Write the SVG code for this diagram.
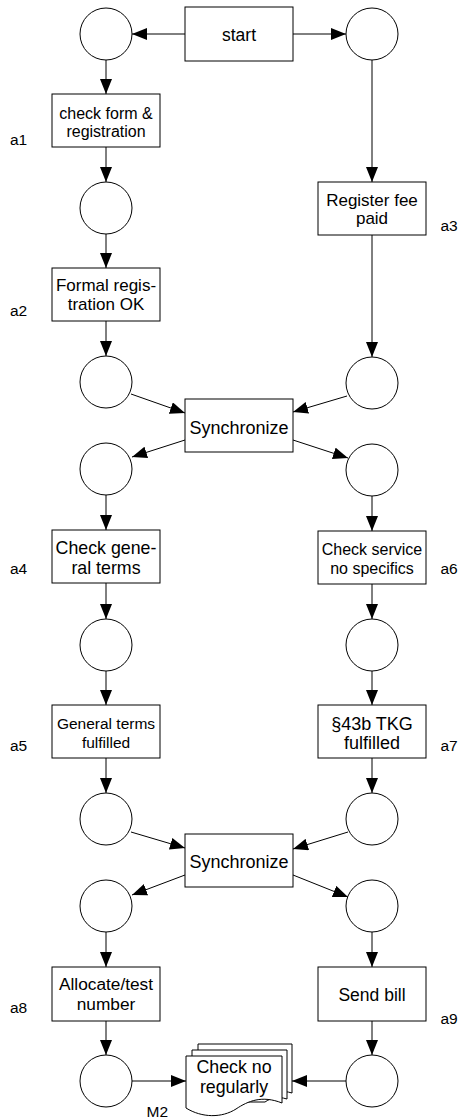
<svg xmlns="http://www.w3.org/2000/svg" width="462" height="1119" viewBox="0 0 462 1119">
  <defs>
    <marker id="ah" markerUnits="userSpaceOnUse" markerWidth="15" markerHeight="12" refX="15" refY="6" orient="auto">
      <path d="M0,0 L15,6 L0,12 z" fill="#000"/>
    </marker>
    <style>
      .place { fill: #fff; stroke: #000; stroke-width: 1; }
      .trans { fill: #fff; stroke: #000; stroke-width: 1; }
      .doc { fill: #fff; stroke: #000; stroke-width: 1; }
      .t { font-family: "Liberation Sans", Arial, sans-serif; font-size: 17.5px; fill: #000; text-anchor: middle; }
      .lbl { font-family: "Liberation Sans", Arial, sans-serif; font-size: 15.5px; fill: #000; }
      .arc { stroke: #000; stroke-width: 1; fill: none; marker-end: url(#ah); }
    </style>
  </defs>
  <rect width="462" height="1119" fill="#fff"/>

  <!-- arcs of the net -->
  <g id="connectors">
    <path class="arc" d="M185,34 L132,34"/>
    <path class="arc" d="M293,34 L346,34"/>
    <path class="arc" d="M106,60 L106,94"/>
    <path class="arc" d="M106,147 L106,182"/>
    <path class="arc" d="M106,234 L106,268"/>
    <path class="arc" d="M106,321 L106,356"/>
    <path class="arc" d="M372,60 L372,182"/>
    <path class="arc" d="M372,235 L372,357"/>
    <path class="arc" d="M131,394 L185,413"/>
    <path class="arc" d="M347,396 L293,412"/>
    <path class="arc" d="M185,440 L132,457"/>
    <path class="arc" d="M293,440 L348,458"/>
    <path class="arc" d="M106,495 L106,530"/>
    <path class="arc" d="M106,583 L106,619"/>
    <path class="arc" d="M372,496 L372,531"/>
    <path class="arc" d="M372,584 L372,619"/>
    <path class="arc" d="M106,671 L106,705"/>
    <path class="arc" d="M106,758 L106,793"/>
    <path class="arc" d="M372,671 L372,705"/>
    <path class="arc" d="M372,758 L372,793"/>
    <path class="arc" d="M131,832 L185,848"/>
    <path class="arc" d="M348,832 L293,849"/>
    <path class="arc" d="M185,875 L132,895"/>
    <path class="arc" d="M293,875 L348,897"/>
    <path class="arc" d="M106,932 L106,967"/>
    <path class="arc" d="M372,932 L372,967"/>
    <path class="arc" d="M106,1021 L106,1055"/>
    <path class="arc" d="M372,1021 L372,1055"/>
    <path class="arc" d="M132,1081 L186,1081"/>
    <path class="arc" d="M346,1081 L292,1081"/>
  </g>

  <!-- places -->
  <g id="p1"><circle class="place" cx="106" cy="34" r="26"/></g>
  <g id="p2"><circle class="place" cx="372" cy="34" r="26"/></g>
  <g id="p3"><circle class="place" cx="106" cy="208" r="26"/></g>
  <g id="p4"><circle class="place" cx="106" cy="382" r="26"/></g>
  <g id="p5"><circle class="place" cx="372" cy="383" r="26"/></g>
  <g id="p6"><circle class="place" cx="106" cy="469" r="26"/></g>
  <g id="p7"><circle class="place" cx="372" cy="470" r="26"/></g>
  <g id="p8"><circle class="place" cx="106" cy="645" r="26"/></g>
  <g id="p9"><circle class="place" cx="372" cy="645" r="26"/></g>
  <g id="p10"><circle class="place" cx="106" cy="819" r="26"/></g>
  <g id="p11"><circle class="place" cx="372" cy="819" r="26"/></g>
  <g id="p12"><circle class="place" cx="106" cy="906" r="26"/></g>
  <g id="p13"><circle class="place" cx="372" cy="906" r="26"/></g>
  <g id="p14"><circle class="place" cx="106" cy="1081" r="26"/></g>
  <g id="p15"><circle class="place" cx="372" cy="1081" r="26"/></g>

  <!-- transitions -->
  <g id="start">
    <rect class="trans" x="185" y="7" width="108" height="54"/>
    <text class="t" x="239" y="40.5">start</text>
  </g>
  <g id="a1">
    <rect class="trans" x="52" y="94" width="108" height="53"/>
    <text class="t" x="106" y="119" style="font-size:16px">check form &amp;</text>
    <text class="t" x="106" y="136.5" style="font-size:16px">registration</text>
    <text class="lbl" x="10" y="145">a1</text>
  </g>
  <g id="a2">
    <rect class="trans" x="52" y="268" width="108" height="53"/>
    <text class="t" x="106" y="291" style="font-size:17px">Formal regis-</text>
    <text class="t" x="106" y="309.5" style="font-size:17px">tration OK</text>
    <text class="lbl" x="10" y="315.5">a2</text>
  </g>
  <g id="a3">
    <rect class="trans" x="318" y="182" width="108" height="53"/>
    <text class="t" x="372" y="205.5" style="font-size:17px">Register fee</text>
    <text class="t" x="372" y="223.5" style="font-size:17px">paid</text>
    <text class="lbl" x="440.5" y="231">a3</text>
  </g>
  <g id="sync1">
    <rect class="trans" x="185" y="399" width="108" height="53"/>
    <text class="t" x="239" y="433.5" style="font-size:18px">Synchronize</text>
  </g>
  <g id="a4">
    <rect class="trans" x="52" y="530" width="108" height="53"/>
    <text class="t" x="106" y="554" style="font-size:17.8px">Check gene-</text>
    <text class="t" x="106" y="573.5" style="font-size:17.8px">ral terms</text>
    <text class="lbl" x="10" y="574">a4</text>
  </g>
  <g id="a6">
    <rect class="trans" x="318" y="531" width="108" height="53"/>
    <text class="t" x="372" y="555" style="font-size:16px">Check service</text>
    <text class="t" x="372" y="573.5" style="font-size:16px">no specifics</text>
    <text class="lbl" x="440.5" y="574">a6</text>
  </g>
  <g id="a5">
    <rect class="trans" x="52" y="705" width="108" height="53"/>
    <text class="t" x="106" y="728.5" style="font-size:15.5px">General terms</text>
    <text class="t" x="106" y="747.5" style="font-size:15.5px">fulfilled</text>
    <text class="lbl" x="10" y="750.5">a5</text>
  </g>
  <g id="a7">
    <rect class="trans" x="318" y="705" width="108" height="53"/>
    <text class="t" x="372" y="729.5" style="font-size:18px">§43b TKG</text>
    <text class="t" x="372" y="748.5" style="font-size:18px">fulfilled</text>
    <text class="lbl" x="440.5" y="750.5">a7</text>
  </g>
  <g id="sync2">
    <rect class="trans" x="185" y="834" width="108" height="53"/>
    <text class="t" x="239" y="868" style="font-size:18px">Synchronize</text>
  </g>
  <g id="a8">
    <rect class="trans" x="52" y="967" width="108" height="54"/>
    <text class="t" x="106" y="989.5" style="font-size:17.3px">Allocate/test</text>
    <text class="t" x="106" y="1010" style="font-size:17.3px">number</text>
    <text class="lbl" x="10" y="1013">a8</text>
  </g>
  <g id="a9">
    <rect class="trans" x="318" y="967" width="108" height="54"/>
    <text class="t" x="372" y="1000.5">Send bill</text>
    <text class="lbl" x="440.5" y="1024">a9</text>
  </g>

  <!-- document stack M2 -->
  <g id="m2">
    <path class="doc" d="M198,1044 H292 V1093 C282,1090 276,1092 270,1096 L198,1096 Z"/>
    <path class="doc" d="M192,1050 H287 V1099 C277,1096 271,1098 265,1102 L192,1102 Z"/>
    <path class="doc" d="M186,1056 H282 V1103 C262,1095 248,1101 236,1109 C222,1118 202,1118 186,1108 Z"/>
    <text class="t" x="234" y="1072.5" style="font-size:17.8px">Check no</text>
    <text class="t" x="234" y="1092.5" style="font-size:17.8px">regularly</text>
    <text class="lbl" x="146.5" y="1117">M2</text>
  </g>
</svg>
